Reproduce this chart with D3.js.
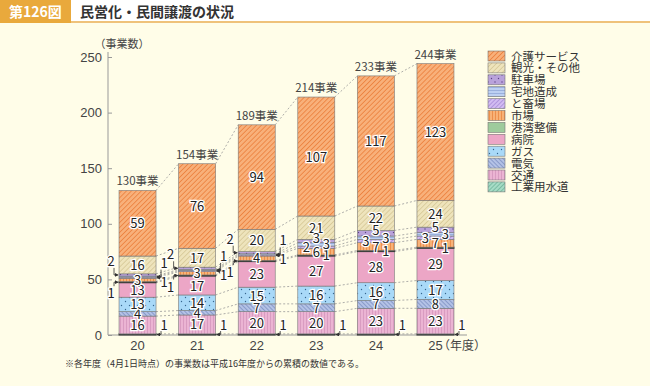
<!DOCTYPE html>
<html>
<head>
<meta charset="utf-8">
<script src="https://cdn.jsdelivr.net/npm/d3@7"></script>
<style>
body { margin: 0; background: #FFFDE8; }
svg { display: block; font-family: "Noto Sans CJK JP", "Noto Sans", sans-serif; }
</style>
</head>
<body>
<svg width="650" height="386"></svg>
<script>
// data
var years = ["20", "21", "22", "23", "24", "25"];
var series = ["工業用水道", "交通", "電気", "ガス", "病院", "港湾整備", "市場", "と畜場", "宅地造成", "駐車場", "観光・その他", "介護サービス"];
var kogyo   = [1, 1, 1, 1, 1, 1];
var kotsu   = [16, 17, 20, 20, 23, 23];
var denki   = [4, 4, 7, 7, 7, 8];
var gas     = [13, 14, 15, 16, 16, 17];
var byoin   = [13, 17, 23, 27, 28, 29];
var kowan   = [1, 1, 1, 1, 1, 1];
var ichiba  = [3, 3, 4, 6, 7, 7];
var tochiku = [1, 1, 1, 2, 3, 3];
var takuchi = [1, 1, 1, 3, 3, 3];
var chusha  = [2, 2, 2, 3, 5, 5];
var kanko   = [16, 17, 20, 21, 22, 24];
var kaigo   = [59, 76, 94, 107, 117, 123];
var totals  = [130, 154, 189, 214, 233, 244];
var yTicks  = [0, 50, 100, 150, 200, 250];

var values = [kogyo, kotsu, denki, gas, byoin, kowan, ichiba, tochiku, takuchi, chusha, kanko, kaigo];

var svg = d3.select("svg");
var defs = svg.append("defs");

// patterns
function stripes(id, bg, fg, angle, gap, w) {
  var p = defs.append("pattern").attr("id", id).attr("patternUnits", "userSpaceOnUse")
    .attr("width", gap).attr("height", gap).attr("patternTransform", "rotate(" + angle + ")");
  p.append("rect").attr("width", gap).attr("height", gap).attr("fill", bg);
  p.append("line").attr("x1", 0).attr("y1", 0).attr("x2", 0).attr("y2", gap)
    .attr("stroke", fg).attr("stroke-width", w);
}
function dots(id, bg, fg, gap) {
  var p = defs.append("pattern").attr("id", id).attr("patternUnits", "userSpaceOnUse")
    .attr("width", gap).attr("height", gap);
  p.append("rect").attr("width", gap).attr("height", gap).attr("fill", bg);
  p.append("circle").attr("cx", 1.5).attr("cy", 1.5).attr("r", 0.7).attr("fill", fg);
  p.append("circle").attr("cx", 1.5 + gap / 2).attr("cy", 1.5 + gap / 2).attr("r", 0.7).attr("fill", fg);
}
function solid(id, c) {
  defs.append("pattern").attr("id", id).attr("patternUnits", "userSpaceOnUse").attr("width", 4).attr("height", 4)
    .append("rect").attr("width", 4).attr("height", 4).attr("fill", c);
}
stripes("p0", "#A6DCC6", "#4E9C80", 45, 3, 1);
stripes("p1", "#EBB4D3", "#C784B0", 0, 3, 1);
stripes("p2", "#B4C2E6", "#5E74AE", -45, 3, 1);
dots("p3", "#A9D9F8", "#35668F", 8);
solid("p4", "#ECA6C6");
solid("p5", "#9ECB9C");
stripes("p6", "#F8B277", "#E4782E", 0, 3, 1.2);
stripes("p7", "#D2BCF2", "#8C6CC8", 45, 3, 1);
stripes("p8", "#BDD0F2", "#7890C8", 90, 3, 1);
dots("p9", "#B9A2DA", "#5C4288", 7);
stripes("p10", "#EEE4BC", "#C4B27A", 45, 3.5, 0.9);
stripes("p11", "#F8B07A", "#E8742E", 45, 3.5, 1.3);

var arrowM = defs.append("marker").attr("id", "arr").attr("viewBox", "0 0 6 6")
  .attr("refX", 5).attr("refY", 3).attr("markerWidth", 5).attr("markerHeight", 5).attr("orient", "auto");
arrowM.append("path").attr("d", "M0,0 L6,3 L0,6 Z").attr("fill", "#333");

// title bar
svg.append("rect").attr("x", 0).attr("y", 0).attr("width", 650).attr("height", 23).attr("fill", "#FFFFFF");
svg.append("rect").attr("x", 0).attr("y", 21).attr("width", 650).attr("height", 2).attr("fill", "#EFC27A");
svg.append("rect").attr("x", 0).attr("y", 0).attr("width", 71).attr("height", 23).attr("fill", "#E9A93C");
svg.append("text").attr("x", 9).attr("y", 17).attr("fill", "#fff").attr("font-size", 14).attr("font-weight", "bold").text("第126図");
svg.append("text").attr("x", 80).attr("y", 17).attr("fill", "#333").attr("font-size", 14).attr("font-weight", "bold").text("民営化・民間譲渡の状況");

// scales
var x = d3.scaleBand().domain(years).range([108, 465]).paddingInner(0.379).paddingOuter(0.185);
var y = d3.scaleLinear().domain([0, 250]).range([335, 57]);

// axes
var yAxis = svg.append("g").attr("transform", "translate(108,0)")
  .call(d3.axisRight(y).tickValues(yTicks).tickSize(4).tickFormat(d3.format("d")));
yAxis.select(".domain").attr("stroke", "#999").attr("d", "M0,52V335");
yAxis.selectAll(".tick line").attr("stroke", "#999");
yAxis.selectAll(".tick text").attr("x", -6).attr("text-anchor", "end").attr("fill", "#444").attr("font-size", 13);
svg.append("text").attr("x", 122).attr("y", 48).attr("text-anchor", "middle").attr("fill", "#444").attr("font-size", 11).text("（事業数）");

var xAxis = svg.append("g").attr("transform", "translate(0,335)")
  .call(d3.axisBottom(x).tickSize(0).tickPadding(6));
xAxis.select(".domain").attr("stroke", "#999").attr("d", "M108,0H467");
xAxis.selectAll(".tick text").attr("fill", "#444").attr("font-size", 13);
svg.append("text").attr("x", 462).attr("y", 350).attr("text-anchor", "middle").attr("fill", "#444").attr("font-size", 12).text("（年度）");

// stack
var rows = years.map(function(yr, i) {
  var r = { year: yr };
  series.forEach(function(s, k) { r[s] = values[k][i]; });
  return r;
});
var stack = d3.stack().keys(series)(rows);

// connecting dotted lines
var bw = x.bandwidth();
stack.forEach(function(layer) {
  for (var i = 0; i < years.length - 1; i++) {
    svg.append("line")
      .attr("x1", x(years[i]) + bw).attr("y1", y(layer[i][1]))
      .attr("x2", x(years[i + 1])).attr("y2", y(layer[i + 1][1]))
      .attr("stroke", "#999").attr("stroke-width", 0.8).attr("stroke-dasharray", "2,2");
  }
});

// bars
stack.forEach(function(layer, k) {
  svg.append("g").selectAll("rect").data(layer).join("rect")
    .attr("x", function(d, i) { return x(years[i]); })
    .attr("y", function(d) { return y(d[1]); })
    .attr("width", bw)
    .attr("height", function(d) { return y(d[0]) - y(d[1]); })
    .attr("fill", "url(#p" + k + ")")
    .attr("stroke", k == 0 || k == 5 ? "#333" : "#777")
    .attr("stroke-width", k == 0 || k == 5 ? 1 : 0.6);
});

function label(tx, ty, t) {
  svg.append("text").attr("x", tx).attr("y", ty).attr("text-anchor", "middle")
    .attr("font-size", 13).attr("fill", "#222")
    .attr("stroke", "#fff").attr("stroke-width", 2.5).attr("paint-order", "stroke")
    .text(t);
}
function leader(lx, ly, tx, ty) {
  svg.append("path").attr("d", "M" + lx + "," + ly + "V" + ty + "H" + tx)
    .attr("fill", "none").attr("stroke", "#333").attr("stroke-width", 0.8).attr("marker-end", "url(#arr)");
}

// labels inside the big segments
var inside = [1, 2, 3, 4, 10, 11];
stack.forEach(function(layer, k) {
  layer.forEach(function(d, i) {
    var cx = x(years[i]) + bw / 2;
    var cy = (y(d[0]) + y(d[1])) / 2 + 5;
    var v = d[1] - d[0];
    if (inside.indexOf(k) >= 0) label(cx, cy, v);
  });
});

// small segments
stack.forEach(function(layer, k) {
  layer.forEach(function(d, i) {
    var x0 = x(years[i]), x1 = x0 + bw, cx = x0 + bw / 2;
    var mid = (y(d[0]) + y(d[1])) / 2;
    var v = d[1] - d[0];
    if (k == 0) {
      label(x1 + 8, 330, v);
      leader(x1 + 5, 331, x1 + 1, y(0.5));
      return;
    }
    if (i < 3) {
      if (k == 9) { label(x0 - 8, mid - 9, v); leader(x0 - 5, mid - 7, x0 - 1, mid); }
      if (k == 5) { label(x0 - 8, mid + 16, v); leader(x0 - 5, mid + 4, x0 - 1, mid); }
      if (k == 8) { label(x1 + 8, mid - 9, v); leader(x1 + 5, mid - 7, x1 + 1, mid); }
      if (k == 7) { label(x1 + 8, mid + 9, v); leader(x1 + 5, mid - 2, x1 + 1, mid); }
      if (k == 6) label(cx, mid + 5, v);
    } else {
      if (k == 9) label(cx, mid + 2, v);
      if (k == 8) label(cx + 10, mid + 5, v);
      if (k == 7) label(cx - 10, mid + 5, v);
      if (k == 6) label(cx, mid + 5, v);
      if (k == 5) label(cx + 10, mid + 5, v);
    }
  });
});

// totals
totals.forEach(function(t, i) {
  svg.append("text").attr("x", x(years[i]) + bw / 2).attr("y", y(t) - 5).attr("text-anchor", "middle")
    .attr("font-size", 11.5).attr("fill", "#444").text(t + "事業");
});

// legend
var leg = svg.append("g");
series.slice().reverse().forEach(function(s, j) {
  var k = series.length - 1 - j;
  var ly = 51 + j * 11.9;
  leg.append("rect").attr("x", 488).attr("y", ly).attr("width", 17).attr("height", 10)
    .attr("fill", "url(#p" + k + ")").attr("stroke", "#777").attr("stroke-width", 0.6);
  leg.append("text").attr("x", 511).attr("y", ly + 9.5).attr("font-size", 11.5).attr("fill", "#333").text(s);
});

// footnote
svg.append("text").attr("x", 65).attr("y", 367).attr("font-size", 9).attr("fill", "#333")
  .text("※各年度（4月1日時点）の事業数は平成16年度からの累積の数値である。");
</script>
</body>
</html>
